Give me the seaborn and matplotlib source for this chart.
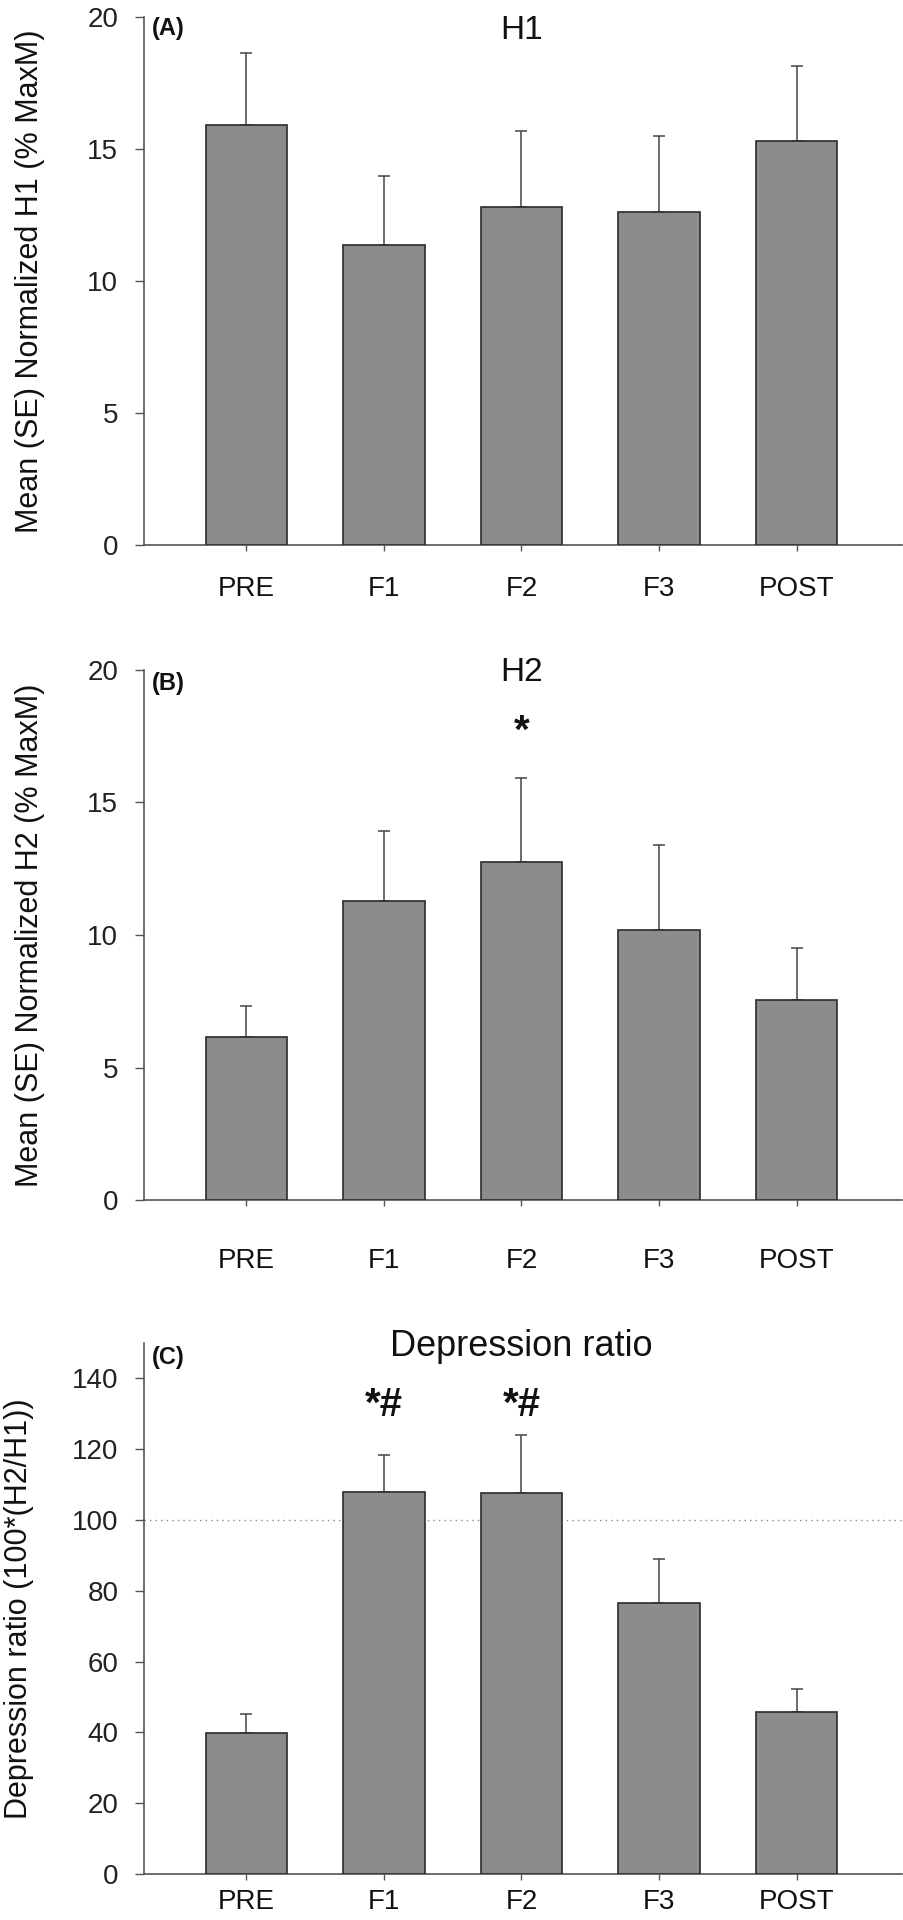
import matplotlib
matplotlib.use('Agg')
import matplotlib.pyplot as plt
import seaborn as sns
import pandas as pd

conditions = ['PRE', 'F1', 'F2', 'F3', 'POST']
h1_mean = [15.9, 11.35, 12.8, 12.6, 15.3]
h1_se = [2.72, 2.64, 2.89, 2.91, 2.85]
h2_mean = [6.15, 11.3, 12.75, 10.2, 7.55]
h2_se = [1.18, 2.62, 3.16, 3.20, 1.97]
ratio_mean = [39.9, 108.0, 107.6, 76.5, 45.9]
ratio_se = [5.3, 10.5, 16.5, 12.4, 6.3]

sns.set_style('white')
FONT = ['Liberation Sans', 'DejaVu Sans']
plt.rcParams['font.family'] = FONT

fig = plt.figure(figsize=(9.04, 19.2), dpi=100)
W, H = 904, 1920

def pos(top, bottom, left=144, right=902):
    return [left / W, 1 - bottom / H, (right - left) / W, (bottom - top) / H]

panels = [
    dict(mean=h1_mean, se=h1_se, rect=pos(17, 545), ylim=20, ticks=[0, 5, 10, 15, 20],
         ylabel='Mean (SE) Normalized H1 (% MaxM)', title='H1', tag='(A)',
         title_y=19.5, tag_y=19.55, marks=[], xpad=18, ylab_x=-0.150, tsize=24),
    dict(mean=h2_mean, se=h2_se, rect=pos(670, 1200), ylim=20, ticks=[0, 5, 10, 15, 20],
         ylabel='Mean (SE) Normalized H2 (% MaxM)', title='H2', tag='(B)',
         title_y=19.9, tag_y=19.5, marks=[(2, 17.65, '*')], xpad=30, ylab_x=-0.150, tsize=24),
    dict(mean=ratio_mean, se=ratio_se, rect=pos(1343, 1874), ylim=150,
         ticks=[0, 20, 40, 60, 80, 100, 120, 140],
         ylabel='Depression ratio (100*(H2/H1))', title='Depression ratio', tag='(C)',
         title_y=149, tag_y=146, marks=[(1, 132.4, '*#'), (2, 132.4, '*#')], xpad=6,
         ylab_x=-0.165, tsize=26),
]

for p in panels:
    ax = fig.add_axes(p['rect'])
    df = pd.DataFrame({'cond': conditions, 'val': p['mean']})
    sns.barplot(data=df, x='cond', y='val', order=conditions, color='#8c8c8c',
                saturation=1, width=0.59, edgecolor='#2b2b2b', linewidth=1.2,
                errorbar=None, ax=ax, zorder=3)
    ax.errorbar(range(len(conditions)), p['mean'],
                yerr=[[0] * len(conditions), p['se']], fmt='none',
                ecolor='#444444', elinewidth=1.1, capsize=4.5, capthick=1.1, zorder=2)
    if p['tag'] == '(C)':
        ax.axhline(100, ls=(0, (1, 3)), color='#888888', lw=1.0, zorder=1)
    ax.set_xlim(-0.745, 4.767)
    ax.set_ylim(0, p['ylim'])
    ax.set_yticks(p['ticks'])
    ax.set_yticklabels([str(t) for t in p['ticks']], fontsize=20, color='#222222')
    ax.set_xticks(range(len(conditions)))
    ax.set_xticklabels(conditions, fontsize=20, color='#111111')
    ax.tick_params(axis='y', direction='out', length=6.5, width=1, color='#555555',
                   pad=12, left=True)
    ax.tick_params(axis='x', direction='out', length=4.5, width=1, color='#555555',
                   pad=p['xpad'], bottom=True)
    ax.set_xlabel('')
    ax.set_ylabel(p['ylabel'], fontsize=22, color='#111111', va='center')
    ax.yaxis.set_label_coords(p['ylab_x'], 0.5)
    for s in ['top', 'right']:
        ax.spines[s].set_visible(False)
    for s in ['left', 'bottom']:
        ax.spines[s].set_color('#555555')
        ax.spines[s].set_linewidth(1.2)
    ax.text(2, p['title_y'], p['title'], ha='center', va='center',
            fontsize=p['tsize'], color='#111111', clip_on=False)
    ax.text(0.01, p['tag_y'], p['tag'], transform=ax.get_yaxis_transform(),
            ha='left', va='center', fontsize=17, fontweight='bold', color='#111111')
    for x, y, s in p['marks']:
        ax.text(x, y, s, ha='center', va='center', fontsize=29, fontweight='bold',
                color='#111111')

fig.savefig('out.png', dpi=100, facecolor='white')
